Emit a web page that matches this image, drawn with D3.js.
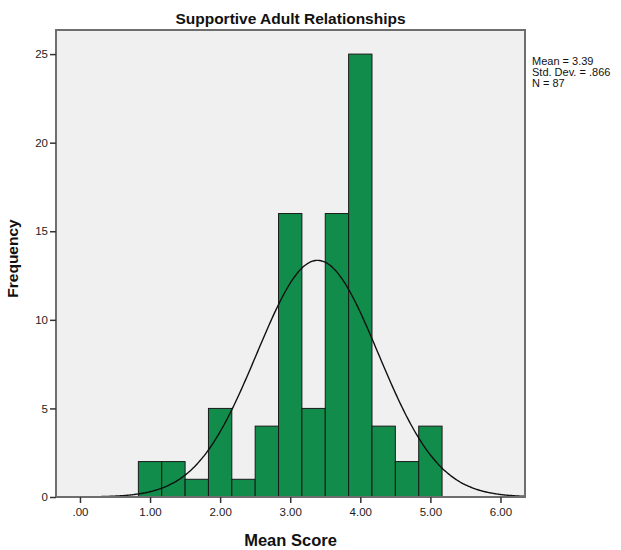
<!DOCTYPE html>
<html>
<head>
<meta charset="utf-8">
<script src="https://cdn.jsdelivr.net/npm/d3@7/dist/d3.min.js"></script>
<style>
  html, body { margin: 0; padding: 0; background: #ffffff; }
  svg { display: block; font-family: Arial, "Liberation Sans", sans-serif; }
</style>
</head>
<body>
<svg id="chart" width="621" height="550"></svg>
<script>
// Histogram of mean scores, 13 bins of width 1/3
const binStarts = [0.8333, 1.1667, 1.5, 1.8333, 2.1667, 2.5, 2.8333, 3.1667, 3.5, 3.8333, 4.1667, 4.5, 4.8333];
const binWidth = 1 / 3;
const counts = [2, 2, 1, 5, 1, 4, 16, 5, 16, 25, 4, 2, 4];
const xTicks = [0, 1, 2, 3, 4, 5, 6];
const yTicks = [0, 5, 10, 15, 20, 25];
const stats = { mean: 3.39, sd: 0.866, n: 87 };
const statLines = ["Mean = 3.39", "Std. Dev. = .866", "N = 87"];

const svg = d3.select("#chart");
const frame = { left: 56, right: 525, top: 30, bottom: 497 };

const x = d3.scaleLinear().domain([-0.342, 6.35]).range([frame.left, frame.right]);
const y = d3.scaleLinear().domain([0, 26.36]).range([frame.bottom, frame.top]);

// plot background
svg.append("rect")
  .attr("x", frame.left).attr("y", frame.top)
  .attr("width", frame.right - frame.left).attr("height", frame.bottom - frame.top)
  .attr("fill", "#f0f0f0");

// bars
svg.append("g").selectAll("rect")
  .data(binStarts.map((s, i) => ({ x0: s, x1: s + binWidth, c: counts[i] })))
  .join("rect")
  .attr("x", d => x(d.x0))
  .attr("y", d => y(d.c))
  .attr("width", d => x(d.x1) - x(d.x0))
  .attr("height", d => y(0) - y(d.c))
  .attr("fill", "#118c4a")
  .attr("stroke", "#1a1a1a")
  .attr("stroke-width", 1);

// fitted normal curve scaled to counts
const pdf = v => Math.exp(-0.5 * Math.pow((v - stats.mean) / stats.sd, 2)) / (stats.sd * Math.sqrt(2 * Math.PI));
const curvePts = d3.range(x.domain()[0], x.domain()[1] + 0.001, 0.02).map(v => [v, stats.n * binWidth * pdf(v)]);
svg.append("path")
  .datum(curvePts)
  .attr("fill", "none")
  .attr("stroke", "#111")
  .attr("stroke-width", 1.4)
  .attr("d", d3.line().x(d => x(d[0])).y(d => y(d[1])).curve(d3.curveBasis));

// frame
svg.append("rect")
  .attr("x", frame.left).attr("y", frame.top)
  .attr("width", frame.right - frame.left).attr("height", frame.bottom - frame.top)
  .attr("fill", "none")
  .attr("stroke", "#6e6e6e")
  .attr("stroke-width", 2);

// axes
const xAxis = svg.append("g")
  .attr("transform", `translate(0,${frame.bottom})`)
  .call(d3.axisBottom(x).tickValues(xTicks).tickSize(6).tickPadding(5)
    .tickFormat(d => d === 0 ? ".00" : d3.format(".2f")(d)));
const yAxis = svg.append("g")
  .attr("transform", `translate(${frame.left},0)`)
  .call(d3.axisLeft(y).tickValues(yTicks).tickSize(6).tickPadding(2));

[xAxis, yAxis].forEach(g => {
  g.select(".domain").remove();
  g.selectAll(".tick line").attr("stroke", "#333").attr("stroke-width", 1.5);
  g.selectAll(".tick text").attr("fill", "#222").attr("font-size", "11.5px")
    .attr("font-family", "Arial, 'Liberation Sans', sans-serif");
});

// title and axis titles
svg.append("text")
  .attr("x", (frame.left + frame.right) / 2).attr("y", 24)
  .attr("text-anchor", "middle")
  .attr("font-size", "15.5px").attr("font-weight", "bold").attr("fill", "#111")
  .text("Supportive Adult Relationships");

svg.append("text")
  .attr("x", (frame.left + frame.right) / 2).attr("y", 546)
  .attr("text-anchor", "middle")
  .attr("font-size", "16.5px").attr("font-weight", "bold").attr("fill", "#111")
  .text("Mean Score");

svg.append("text")
  .attr("transform", `translate(18,${(frame.top + frame.bottom) / 2 - 5}) rotate(-90)`)
  .attr("text-anchor", "middle")
  .attr("font-size", "15.5px").attr("font-weight", "bold").attr("fill", "#111")
  .text("Frequency");

// summary statistics
svg.append("g").selectAll("text")
  .data(statLines)
  .join("text")
  .attr("x", 532)
  .attr("y", (d, i) => 65 + i * 11)
  .attr("font-size", "11px").attr("fill", "#111")
  .text(d => d);
</script>
</body>
</html>
